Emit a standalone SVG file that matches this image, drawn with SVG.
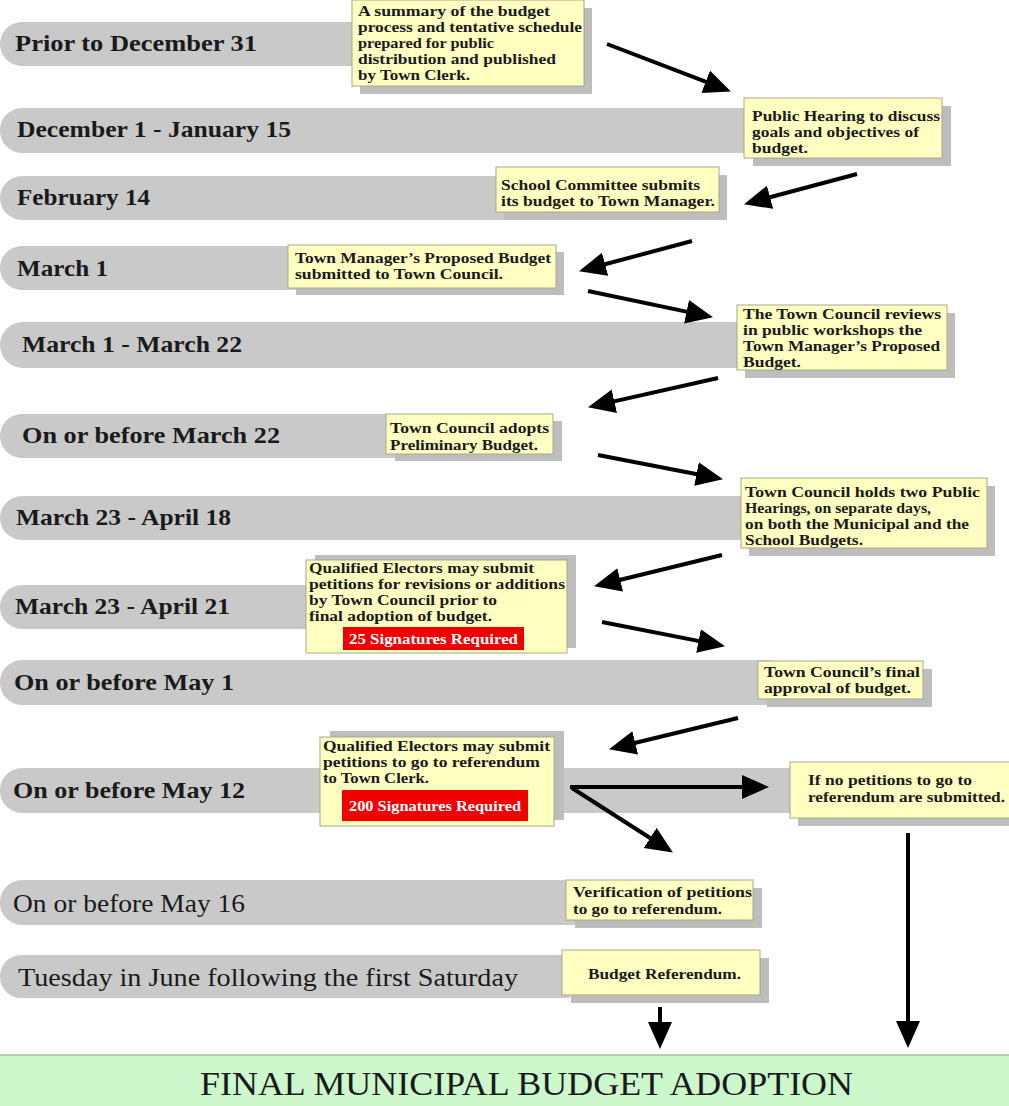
<svg xmlns="http://www.w3.org/2000/svg" width="1009" height="1106" viewBox="0 0 1009 1106">
<style>
.bar{fill:#c9c9c9}
.lbl{font-family:"Liberation Serif",serif;font-weight:bold;font-size:23px;fill:#1a1a1a}
.lbln{font-family:"Liberation Serif",serif;font-weight:normal;font-size:26px;fill:#1a1a1a}
.note{fill:#ffffc2;stroke:#a8a888;stroke-width:1}
.shd{fill:#bdbdbd}
.nt{font-family:"Liberation Serif",serif;font-weight:bold;font-size:14px;fill:#1a1a1a}
.red{fill:#f00000}
.rt{font-family:"Liberation Serif",serif;font-weight:bold;font-size:14px;fill:#ffffff}
.arr{stroke:#000;stroke-width:4;fill:none;marker-end:url(#ah)}
.fin{fill:#ccf8cc;stroke:#9ac89a;stroke-width:1.5}
.ft{font-family:"Liberation Serif",serif;font-size:34px;fill:#1a1a1a}
</style>
<defs>
<marker id="ah" markerUnits="userSpaceOnUse" markerWidth="30" markerHeight="26" refX="6" refY="12" orient="auto">
<path d="M0,0 L27,12 L0,24 Z" fill="#000"/>
</marker>
</defs>
<rect x="0" y="0" width="1009" height="1106" fill="#ffffff"/>

<g id="row1">
<rect class="bar" x="0" y="22" width="370" height="44" rx="22"/><rect class="bar" x="30" y="22" width="340" height="44"/>
<text class="lbl" x="15" y="51" textLength="242" lengthAdjust="spacingAndGlyphs">Prior to December 31</text>
</g>
<g id="note1">
<rect class="shd" x="360" y="8" width="232" height="86"/>
<rect class="note" x="352" y="0" width="232" height="86"/>
<text class="nt" x="358" y="16" textLength="192" lengthAdjust="spacingAndGlyphs">A summary of the budget</text>
<text class="nt" x="358" y="32" textLength="224" lengthAdjust="spacingAndGlyphs">process and tentative schedule</text>
<text class="nt" x="358" y="48" textLength="136" lengthAdjust="spacingAndGlyphs">prepared for public</text>
<text class="nt" x="358" y="64" textLength="198" lengthAdjust="spacingAndGlyphs">distribution and published</text>
<text class="nt" x="358" y="80" textLength="112" lengthAdjust="spacingAndGlyphs">by Town Clerk.</text>
</g>

<g id="row2">
<rect class="bar" x="0" y="108" width="760" height="45" rx="22"/><rect class="bar" x="30" y="108" width="730" height="45"/>
<text class="lbl" x="17" y="137" textLength="274" lengthAdjust="spacingAndGlyphs">December 1 - January 15</text>
</g>
<g id="note2">
<rect class="shd" x="753" y="106" width="198" height="60"/>
<rect class="note" x="744" y="98" width="198" height="60"/>
<text class="nt" x="752" y="121" textLength="188" lengthAdjust="spacingAndGlyphs">Public Hearing to discuss</text>
<text class="nt" x="752" y="137" textLength="167" lengthAdjust="spacingAndGlyphs">goals and objectives of</text>
<text class="nt" x="752" y="153" textLength="56" lengthAdjust="spacingAndGlyphs">budget.</text>
</g>

<g id="row3">
<rect class="bar" x="0" y="176" width="510" height="44" rx="22"/><rect class="bar" x="30" y="176" width="480" height="44"/>
<text class="lbl" x="17" y="205" textLength="133" lengthAdjust="spacingAndGlyphs">February 14</text>
</g>
<g id="note3">
<rect class="shd" x="504" y="175" width="223" height="45"/>
<rect class="note" x="496" y="167" width="223" height="45"/>
<text class="nt" x="501" y="190" textLength="199" lengthAdjust="spacingAndGlyphs">School Committee submits</text>
<text class="nt" x="501" y="206" textLength="214" lengthAdjust="spacingAndGlyphs">its budget to Town Manager.</text>
</g>

<g id="row4">
<rect class="bar" x="0" y="246" width="300" height="44" rx="22"/><rect class="bar" x="30" y="246" width="270" height="44"/>
<text class="lbl" x="17" y="276" textLength="91" lengthAdjust="spacingAndGlyphs">March 1</text>
</g>
<g id="note4">
<rect class="shd" x="296" y="252" width="268" height="43"/>
<rect class="note" x="288" y="245" width="268" height="43"/>
<text class="nt" x="295" y="263" textLength="256" lengthAdjust="spacingAndGlyphs">Town Manager’s Proposed Budget</text>
<text class="nt" x="295" y="279" textLength="208" lengthAdjust="spacingAndGlyphs">submitted to Town Council.</text>
</g>

<g id="row5">
<rect class="bar" x="0" y="322" width="745" height="46" rx="23"/><rect class="bar" x="30" y="322" width="715" height="46"/>
<text class="lbl" x="22" y="352" textLength="220" lengthAdjust="spacingAndGlyphs">March 1 - March 22</text>
</g>
<g id="note5">
<rect class="shd" x="745" y="313" width="210" height="65"/>
<rect class="note" x="737" y="305" width="210" height="65"/>
<text class="nt" x="743" y="319" textLength="198" lengthAdjust="spacingAndGlyphs">The Town Council reviews</text>
<text class="nt" x="743" y="335" textLength="179" lengthAdjust="spacingAndGlyphs">in public workshops the</text>
<text class="nt" x="743" y="351" textLength="197" lengthAdjust="spacingAndGlyphs">Town Manager’s Proposed</text>
<text class="nt" x="743" y="367" textLength="58" lengthAdjust="spacingAndGlyphs">Budget.</text>
</g>

<g id="row6">
<rect class="bar" x="0" y="414" width="400" height="44" rx="22"/><rect class="bar" x="30" y="414" width="370" height="44"/>
<text class="lbl" x="22" y="443" textLength="258" lengthAdjust="spacingAndGlyphs">On or before March 22</text>
</g>
<g id="note6">
<rect class="shd" x="395" y="421" width="167" height="40"/>
<rect class="note" x="386" y="414" width="167" height="40"/>
<text class="nt" x="390" y="433" textLength="159" lengthAdjust="spacingAndGlyphs">Town Council adopts</text>
<text class="nt" x="390" y="450" textLength="148" lengthAdjust="spacingAndGlyphs">Preliminary Budget.</text>
</g>

<g id="row7">
<rect class="bar" x="0" y="496" width="750" height="44" rx="22"/><rect class="bar" x="30" y="496" width="720" height="44"/>
<text class="lbl" x="16" y="525" textLength="215" lengthAdjust="spacingAndGlyphs">March 23 - April 18</text>
</g>
<g id="note7">
<rect class="shd" x="749" y="486" width="246" height="70"/>
<rect class="note" x="741" y="478" width="246" height="70"/>
<text class="nt" x="745" y="497" textLength="235" lengthAdjust="spacingAndGlyphs">Town Council holds two Public</text>
<text class="nt" x="745" y="513" textLength="186" lengthAdjust="spacingAndGlyphs">Hearings, on separate days,</text>
<text class="nt" x="745" y="529" textLength="224" lengthAdjust="spacingAndGlyphs">on both the Municipal and the</text>
<text class="nt" x="745" y="545" textLength="118" lengthAdjust="spacingAndGlyphs">School Budgets.</text>
</g>

<g id="row8">
<rect class="bar" x="0" y="585" width="320" height="44" rx="22"/><rect class="bar" x="30" y="585" width="290" height="44"/>
<text class="lbl" x="15" y="614" textLength="215" lengthAdjust="spacingAndGlyphs">March 23 - April 21</text>
</g>
<g id="note8">
<rect class="shd" x="315" y="555" width="261" height="93"/>
<rect class="note" x="306" y="560" width="261" height="93"/>
<text class="nt" x="309" y="573" textLength="225" lengthAdjust="spacingAndGlyphs">Qualified Electors may submit</text>
<text class="nt" x="309" y="589" textLength="256" lengthAdjust="spacingAndGlyphs">petitions for revisions or additions</text>
<text class="nt" x="309" y="605" textLength="188" lengthAdjust="spacingAndGlyphs">by Town Council prior to</text>
<text class="nt" x="309" y="621" textLength="183" lengthAdjust="spacingAndGlyphs">final adoption of budget.</text>
<rect class="red" x="343" y="627" width="181" height="23"/>
<text class="rt" x="349" y="644" textLength="169" lengthAdjust="spacingAndGlyphs">25 Signatures Required</text>
</g>

<g id="row9">
<rect class="bar" x="0" y="660" width="770" height="45" rx="22"/><rect class="bar" x="30" y="660" width="740" height="45"/>
<text class="lbl" x="14" y="690" textLength="220" lengthAdjust="spacingAndGlyphs">On or before May 1</text>
</g>
<g id="note9">
<rect class="shd" x="767" y="669" width="165" height="38"/>
<rect class="note" x="758" y="661" width="165" height="38"/>
<text class="nt" x="764" y="677" textLength="156" lengthAdjust="spacingAndGlyphs">Town Council’s final</text>
<text class="nt" x="764" y="693" textLength="147" lengthAdjust="spacingAndGlyphs">approval of budget.</text>
</g>

<g id="row10">
<rect class="bar" x="0" y="768" width="800" height="45" rx="22"/><rect class="bar" x="30" y="768" width="770" height="45"/>
<text class="lbl" x="13" y="798" textLength="232" lengthAdjust="spacingAndGlyphs">On or before May 12</text>
</g>
<g id="note10">
<rect class="shd" x="330" y="731" width="234" height="89"/>
<rect class="note" x="320" y="737" width="234" height="89"/>
<text class="nt" x="323" y="751" textLength="227" lengthAdjust="spacingAndGlyphs">Qualified Electors may submit</text>
<text class="nt" x="323" y="767" textLength="217" lengthAdjust="spacingAndGlyphs">petitions to go to referendum</text>
<text class="nt" x="323" y="783" textLength="106" lengthAdjust="spacingAndGlyphs">to Town Clerk.</text>
<rect class="red" x="342" y="790" width="186" height="31"/>
<text class="rt" x="349" y="811" textLength="172" lengthAdjust="spacingAndGlyphs">200 Signatures Required</text>
</g>
<g id="note11">
<rect class="shd" x="798" y="770" width="211" height="56"/>
<rect class="note" x="790" y="762" width="220" height="56"/>
<text class="nt" x="808" y="785" textLength="164" lengthAdjust="spacingAndGlyphs">If no petitions to go to</text>
<text class="nt" x="808" y="802" textLength="197" lengthAdjust="spacingAndGlyphs">referendum are submitted.</text>
</g>

<g id="row11">
<rect class="bar" x="0" y="880" width="580" height="45" rx="22"/><rect class="bar" x="30" y="880" width="550" height="45"/>
<text class="lbln" x="13" y="912" textLength="232" lengthAdjust="spacingAndGlyphs">On or before May 16</text>
</g>
<g id="note12">
<rect class="shd" x="575" y="888" width="187" height="40"/>
<rect class="note" x="566" y="880" width="187" height="40"/>
<text class="nt" x="573" y="897" textLength="179" lengthAdjust="spacingAndGlyphs">Verification of petitions</text>
<text class="nt" x="573" y="914" textLength="149" lengthAdjust="spacingAndGlyphs">to go to referendum.</text>
</g>

<g id="row12">
<rect class="bar" x="0" y="955" width="570" height="43" rx="21"/><rect class="bar" x="30" y="955" width="540" height="43"/>
<text class="lbln" x="18" y="986" textLength="500" lengthAdjust="spacingAndGlyphs">Tuesday in June following the first Saturday</text>
</g>
<g id="note13">
<rect class="shd" x="571" y="958" width="198" height="45"/>
<rect class="note" x="562" y="950" width="198" height="45"/>
<text class="nt" x="588" y="979" font-size="12" textLength="153" lengthAdjust="spacingAndGlyphs">Budget Referendum.</text>
</g>

<g id="final">
<rect class="fin" x="-1" y="1055" width="1011" height="53"/>
<text class="ft" x="200" y="1095" textLength="653" lengthAdjust="spacingAndGlyphs">FINAL MUNICIPAL BUDGET ADOPTION</text>
</g>

<g id="connectors">
<line class="arr" x1="607" y1="44" x2="711.3" y2="83.9"/>
<line class="arr" x1="857" y1="174" x2="764.3" y2="198.8"/>
<line class="arr" x1="692" y1="241" x2="599.3" y2="265.8"/>
<line class="arr" x1="588" y1="291" x2="692.4" y2="312.9"/>
<line class="arr" x1="718" y1="378" x2="608.5" y2="402.6"/>
<line class="arr" x1="598" y1="455" x2="702.4" y2="475.2"/>
<line class="arr" x1="722" y1="555" x2="614.4" y2="581.3"/>
<line class="arr" x1="602" y1="622" x2="704.4" y2="642.1"/>
<line class="arr" x1="738" y1="718" x2="629.4" y2="744.3"/>
<line class="arr" x1="570" y1="787" x2="748" y2="787"/>
<line class="arr" x1="572" y1="788" x2="655.2" y2="841.2"/>
<line class="arr" x1="908" y1="833" x2="908" y2="1027"/>
<line class="arr" x1="660" y1="1007" x2="660" y2="1028"/>
</g>
</svg>
